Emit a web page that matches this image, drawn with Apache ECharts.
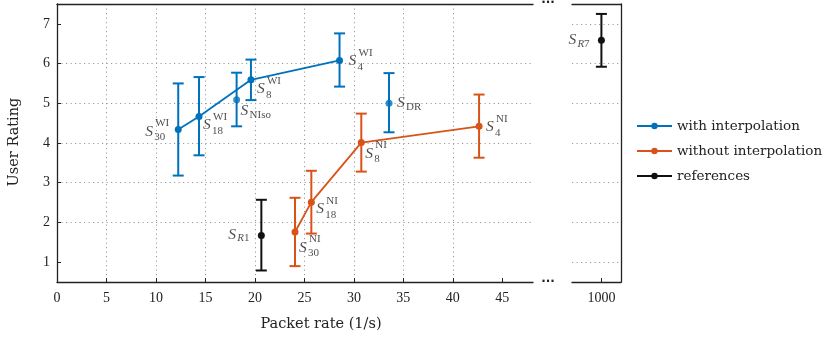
<!DOCTYPE html>
<html>
<head>
<meta charset="utf-8">
<script src="https://cdn.jsdelivr.net/npm/echarts@6/dist/echarts.min.js"></script>
<style>
html, body { margin: 0; padding: 0; background: #fff; }
#chart { width: 823px; height: 343px; }
</style>
</head>
<body>
<div id="chart"></div>
<script>
// 坐标轴刻度
const xTicks = [0, 5, 10, 15, 20, 25, 30, 35, 40, 45];
const xTicksBroken = [1000];
const yTicks = [1, 2, 3, 4, 5, 6, 7];

// with interpolation (S^WI)
const wiRate = [12.25, 14.35, 19.6, 28.55];
const wiRating = [4.34, 4.67, 5.59, 6.08];
const wiLow = [3.18, 3.69, 5.08, 5.42];
const wiHigh = [5.50, 5.66, 6.10, 6.76];
const wiName = ['30', '18', '8', '4'];

// without interpolation (S^NI)
const niRate = [24.05, 25.7, 30.75, 42.65];
const niRating = [1.76, 2.51, 4.01, 4.42];
const niLow = [0.90, 1.72, 3.28, 3.63];
const niHigh = [2.62, 3.30, 4.74, 5.22];
const niName = ['30', '18', '8', '4'];

// 单独的蓝点 S_NIso, S_DR
const otherRate = [18.15, 33.55];
const otherRating = [5.09, 5.00];
const otherLow = [4.42, 4.27];
const otherHigh = [5.77, 5.76];
const otherName = ['NIso', 'DR'];

// references S_R1, S_R7
const refRate = [20.65, 1000];
const refRating = [1.67, 6.59];
const refLow = [0.79, 5.92];
const refHigh = [2.57, 7.25];
const refName = ['R1', 'R7'];

// 标签相对数据点的偏移 (px)
const wiLabelPos = [[-33, 2], [4, 8.5], [6, 9], [9, 1]];
const niLabelPos = [[4, 15.5], [5, 7], [4, 11], [7, 0.5]];
const otherLabelPos = [[4, 11.5], [8, 0]];
const refLabelPos = [[-33, -0.5], [-33, 0]];

const BLUE = '#0072BD';
const ORANGE = '#D95319';
const BLACK = '#111';
const TEXT = '#222';
const SERIF = 'Liberation Serif';
const WIDE_SERIF = 'DejaVu Serif';

const chart = echarts.init(document.getElementById('chart'));

function zip(a, b) {
    return a.map((v, i) => [v, b[i]]);
}

// 误差棒
function errorBars(rate, low, high, color, xi, yi) {
    return {
        type: 'custom',
        xAxisIndex: xi,
        yAxisIndex: yi,
        silent: true,
        z: 2,
        data: rate.map((v, i) => [v, low[i], high[i]]),
        encode: { x: 0, y: [1, 2] },
        renderItem: function (params, api) {
            const top = api.coord([api.value(0), api.value(2)]);
            const bot = api.coord([api.value(0), api.value(1)]);
            const hw = 5.5;
            const st = { stroke: color, lineWidth: 2 };
            return {
                type: 'group',
                children: [
                    { type: 'line', shape: { x1: top[0], y1: top[1], x2: bot[0], y2: bot[1] }, style: st },
                    { type: 'line', shape: { x1: top[0] - hw, y1: top[1], x2: top[0] + hw, y2: top[1] }, style: st },
                    { type: 'line', shape: { x1: bot[0] - hw, y1: bot[1], x2: bot[0] + hw, y2: bot[1] }, style: st }
                ]
            };
        }
    };
}

const rich = {
    s: { fontFamily: SERIF, fontStyle: 'italic', fontSize: 15.5, color: TEXT },
    rm: { fontFamily: SERIF, fontSize: 11, color: TEXT },
    it: { fontFamily: SERIF, fontStyle: 'italic', fontSize: 11, color: TEXT }
};

function subText(t) {
    if (t[0] === 'R') return '{it|R}{rm|' + t.slice(1) + '}';
    return '{rm|' + t + '}';
}

// 标签: S + 上标 + 下标, 每部分是一个透明散点系列
function labelSeries(rate, rating, sub, sup, pos, xi, yi) {
    const mk = function (textFn, dxFn, dyFn) {
        return {
            type: 'scatter',
            xAxisIndex: xi,
            yAxisIndex: yi,
            symbolSize: 0,
            silent: true,
            z: 10,
            data: rate.map((v, i) => ({
                value: [v, rating[i]],
                label: {
                    show: true,
                    position: 'inside',
                    align: 'left',
                    verticalAlign: 'middle',
                    offset: [dxFn(pos[i]), dyFn(pos[i])],
                    formatter: textFn(i),
                    rich: rich
                }
            }))
        };
    };
    const out = [
        mk(i => '{s|S}', p => p[0], p => p[1]),
        mk(i => subText(sub[i]), p => p[0] + 9, p => p[1] + (sup ? 6 : 3.5))
    ];
    if (sup) out.push(mk(i => '{rm|' + sup + '}', p => p[0] + 10, p => p[1] - 8));
    return out;
}

function pointSeries(name, type, data, color, xi, yi) {
    return {
        name: name,
        type: type,
        xAxisIndex: xi,
        yAxisIndex: yi,
        data: data,
        symbol: 'circle',
        symbolSize: 7,
        showSymbol: true,
        color: color,
        itemStyle: { color: color },
        lineStyle: { color: color, width: 1.8 },
        z: 5,
        animation: false
    };
}

const dotted = { color: '#9a9a9a', width: 1, type: [1.2, 3.3] };
const axisLine = { show: true, onZero: false, lineStyle: { color: TEXT, width: 1.3 } };
const tickFont = { fontFamily: SERIF, fontSize: 14, color: TEXT, formatter: v => String(v) };

const option = {
    animation: false,
    backgroundColor: '#fff',
    grid: [
        { left: 57, top: 4, width: 476, bottom: 61 },
        { left: 572, top: 4, width: 49, bottom: 61 }
    ],
    xAxis: [
        {
            gridIndex: 0, type: 'value', min: 0, max: 48.1, interval: 5, position: 'bottom',
            axisLine: axisLine,
            axisTick: { show: true, inside: true, length: 4, customValues: xTicks, lineStyle: { color: TEXT, width: 1 } },
            axisLabel: { customValues: xTicks, margin: 9, ...tickFont },
            splitLine: { show: true, showMinLine: false, showMaxLine: false, lineStyle: dotted }
        },
        {
            gridIndex: 0, type: 'value', min: 0, max: 48.1, position: 'top',
            axisLine: axisLine, axisTick: { show: false }, axisLabel: { show: false }, splitLine: { show: false }
        },
        {
            gridIndex: 1, type: 'value', min: 997, max: 1002, minInterval: 10, maxInterval: 10, position: 'bottom',
            axisLine: axisLine,
            axisTick: { show: true, inside: true, length: 4, customValues: xTicksBroken, lineStyle: { color: TEXT, width: 1 } },
            axisLabel: { customValues: xTicksBroken, margin: 9, ...tickFont },
            splitLine: { show: true, showMinLine: false, showMaxLine: false, lineStyle: dotted }
        },
        {
            gridIndex: 1, type: 'value', min: 997, max: 1002, position: 'top',
            axisLine: axisLine, axisTick: { show: false }, axisLabel: { show: false }, splitLine: { show: false }
        }
    ],
    yAxis: [
        {
            gridIndex: 0, type: 'value', min: 0.5, max: 7.5, splitNumber: 7, minInterval: 1, maxInterval: 1,
            axisLine: axisLine,
            axisTick: { show: true, inside: true, length: 4, customValues: yTicks, lineStyle: { color: TEXT, width: 1 } },
            axisLabel: { customValues: yTicks, margin: 7, ...tickFont },
            splitLine: { show: true, showMinLine: false, showMaxLine: false, lineStyle: dotted }
        },
        {
            gridIndex: 1, type: 'value', min: 0.5, max: 7.5, splitNumber: 7, minInterval: 1, maxInterval: 1, position: 'right',
            axisLine: axisLine,
            axisTick: { show: false },
            axisLabel: { show: false },
            splitLine: { show: true, showMinLine: false, showMaxLine: false, lineStyle: dotted }
        }
    ],
    legend: {
        data: ['with interpolation', 'without interpolation', 'references'],
        orient: 'vertical',
        left: 631,
        top: 113,
        itemWidth: 35,
        itemHeight: 8,
        itemGap: 9,
        selectedMode: false,
        textStyle: { fontFamily: WIDE_SERIF, fontSize: 13.5, color: TEXT, lineHeight: 16 }
    },
    graphic: [
        { type: 'text', x: 548, y: 3, style: { text: '···', align: 'center', verticalAlign: 'middle', font: 'bold 12px "DejaVu Sans"', fill: TEXT } },
        { type: 'text', x: 548, y: 282, style: { text: '···', align: 'center', verticalAlign: 'middle', font: 'bold 12px "DejaVu Sans"', fill: TEXT } },
        { type: 'text', x: 321, y: 324, style: { text: 'Packet rate (1/s)', align: 'center', verticalAlign: 'middle', font: '14.5px "DejaVu Serif"', fill: TEXT } },
        { type: 'text', x: 14, y: 142, rotation: Math.PI / 2, style: { text: 'User Rating', align: 'center', verticalAlign: 'middle', font: '14.5px "DejaVu Serif"', fill: TEXT } }
    ],
    series: [
        errorBars(wiRate, wiLow, wiHigh, BLUE, 0, 0),
        errorBars(otherRate, otherLow, otherHigh, BLUE, 0, 0),
        errorBars(niRate, niLow, niHigh, ORANGE, 0, 0),
        errorBars(refRate.slice(0, 1), refLow.slice(0, 1), refHigh.slice(0, 1), BLACK, 0, 0),
        errorBars(refRate.slice(1), refLow.slice(1), refHigh.slice(1), BLACK, 2, 1),
        pointSeries('with interpolation', 'line', zip(wiRate, wiRating), BLUE, 0, 0),
        pointSeries('isolated', 'scatter', zip(otherRate, otherRating), BLUE, 0, 0),
        pointSeries('without interpolation', 'line', zip(niRate, niRating), ORANGE, 0, 0),
        pointSeries('references', 'line', zip(refRate.slice(0, 1), refRating.slice(0, 1)), BLACK, 0, 0),
        pointSeries('references', 'line', zip(refRate.slice(1), refRating.slice(1)), BLACK, 2, 1),
        ...labelSeries(wiRate, wiRating, wiName, 'WI', wiLabelPos, 0, 0),
        ...labelSeries(niRate, niRating, niName, 'NI', niLabelPos, 0, 0),
        ...labelSeries(otherRate, otherRating, otherName, null, otherLabelPos, 0, 0),
        ...labelSeries(refRate.slice(0, 1), refRating.slice(0, 1), refName.slice(0, 1), null, refLabelPos.slice(0, 1), 0, 0),
        ...labelSeries(refRate.slice(1), refRating.slice(1), refName.slice(1), null, refLabelPos.slice(1), 2, 1)
    ]
};

chart.setOption(option);
</script>
</body>
</html>
